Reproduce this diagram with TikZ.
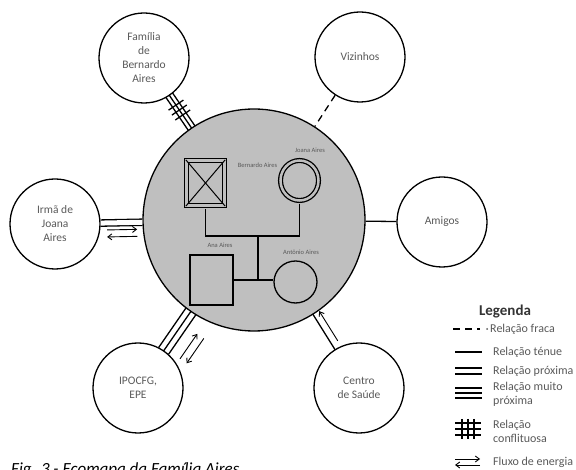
\documentclass[tikz,border=0pt]{standalone}
\usepackage{fontspec}
\setmainfont{Carlito}
\usepackage{tikz}
\usetikzlibrary{calc, shapes.geometric, arrows.meta}
\definecolor{famgray}{RGB}{191,191,191}
\definecolor{txtgray}{RGB}{89,89,89}
\tikzset{
    sistema/.style={circle, draw, line width=1.3pt, minimum size=90pt, inner sep=0pt, align=center, font=\fontsize{11.5}{14}\selectfont, text=txtgray},
    ligacao/.style={line width=1.3pt},
    homem/.style={rectangle, draw, line width=1.3pt, minimum width=43pt, minimum height=50pt, inner sep=0pt},
    mulher/.style={ellipse, draw, line width=1.3pt, minimum width=43pt, minimum height=43pt, inner sep=0pt},
    nome/.style={font=\fontsize{6.5}{7}\selectfont, text=txtgray, inner sep=0pt},
    legtexto/.style={anchor=west, align=left, font=\fontsize{12}{14}\selectfont, text=txtgray, inner sep=0pt},
    fluxo/.style={line width=0.9pt, -{Straight Barb[length=4pt, width=6pt]}}
}

\begin{document}
\begin{tikzpicture}[x=1pt, y=-1pt]
    \useasboundingbox (0,0) rectangle (576,470);

    % familia nuclear
    \node[circle, draw, fill=famgray, line width=1.3pt, minimum size=222pt, inner sep=0pt] (fam) at (254,220) {};

    % sistemas externos
    \node[sistema] (bernfam) at (144,58) {Família\\de\\Bernardo\\Aires};
    \node[sistema] (vizinhos) at (360,57) {Vizinhos};
    \node[sistema] (irma) at (55,224) {Irmã de\\Joana\\Aires};
    \node[sistema] (amigos) at (442,222) {Amigos};
    \node[sistema] (ipo) at (138,388) {IPOCFG,\\EPE};
    \node[sistema] (saude) at (359,388) {Centro\\de Saúde};

    % relacao conflituosa
    \coordinate (b1) at ($(bernfam)!45pt!(fam)$);
    \coordinate (b2) at ($(fam)!111pt!(bernfam)$);
    \foreach \d in {-4pt,0pt,4pt}
        \draw[ligacao] ($(b1)!\d!90:(b2)$) -- ($(b2)!\d!-90:(b1)$);
    \foreach \t in {0.3,0.45,0.6}
        \draw[ligacao] ($(b1)!\t!(b2)!9pt!90:(b2)$) -- ($(b1)!\t!(b2)!9pt!-90:(b2)$);

    % relacao fraca
    \draw[ligacao, dash pattern=on 7pt off 5pt] (vizinhos) -- (fam);

    % relacao proxima + fluxo
    \draw[ligacao, double=white, double distance=5pt] (irma) -- (fam);
    \coordinate (r1) at ($(irma)!45pt!(fam)$);
    \coordinate (r2) at ($(fam)!111pt!(irma)$);
    \draw[fluxo] ($(r1)!0.16!(r2)!7pt!-90:(r2)$) -- ($(r1)!0.86!(r2)!7pt!-90:(r2)$);
    \draw[fluxo] ($(r1)!0.86!(r2)!14pt!-90:(r2)$) -- ($(r1)!0.16!(r2)!14pt!-90:(r2)$);

    % relacao tenue
    \draw[ligacao] (amigos) -- (fam);

    % relacao muito proxima + fluxo
    \coordinate (i1) at ($(ipo)!45pt!(fam)$);
    \coordinate (i2) at ($(fam)!111pt!(ipo)$);
    \foreach \d in {-6pt,0pt,6pt}
        \draw[ligacao] ($(i1)!\d!90:(i2)$) -- ($(i2)!\d!-90:(i1)$);
    \draw[fluxo] ($(i1)!0.06!(i2)!18pt!-90:(i2)$) -- ($(i1)!0.69!(i2)!18pt!-90:(i2)$);
    \draw[fluxo] ($(i1)!0.69!(i2)!26pt!-90:(i2)$) -- ($(i1)!0.06!(i2)!26pt!-90:(i2)$);

    % centro de saude
    \coordinate (s1) at ($(saude)!45pt!(fam)$);
    \coordinate (s2) at ($(fam)!111pt!(saude)$);
    \draw[ligacao] (s1) -- (s2);
    \draw[fluxo] ($(s1)!0.15!(s2)!7pt!-90:(s2)$) -- ($(s1)!0.98!(s2)!7pt!-90:(s2)$);

    % genograma
    \node[homem, double=famgray, double distance=3pt, minimum width=38pt, minimum height=45pt] (bernardo) at (205.5,183) {};
    \draw[line width=1pt] (bernardo.north west) -- (bernardo.south east);
    \draw[line width=1pt] (bernardo.north east) -- (bernardo.south west);
    \node[mulher, double=famgray, double distance=2.5pt, minimum width=38pt, minimum height=40pt] (joana) at (299.5,180.5) {};
    \node[homem] (ana) at (211.5,280) {};
    \node[mulher, minimum height=42pt] (antonio) at (295.5,282) {};

    \node[nome] (nbernardo) at (257.5,165) {Bernardo Aires};
    \node[nome] (njoana) at (310,150) {Joana Aires};
    \node[nome] (nana) at (220,245) {Ana Aires};
    \node[nome] (nantonio) at (301,252) {Antônio Aires};

    \coordinate (casal) at (258,236);
    \draw[ligacao, shorten <=2.8pt, shorten >=2.6pt] (bernardo.south) |- (casal) -| (joana.south);
    \draw[ligacao] (casal) -- (casal |- ana.east);
    \draw[ligacao] (ana.east) -- (ana.east -| antonio.west);

    % legenda
    \node[font=\bfseries\fontsize{15}{17}\selectfont, text=black!80, inner sep=0pt] (legenda) at (505,312) {Legenda};
    \node[legtexto] (tfraca) at (490,329) {Relação fraca};
    \node[legtexto] (ttenue) at (493,352) {Relação ténue};
    \node[legtexto] (tproxima) at (493,371) {Relação próxima};
    \node[legtexto] (tmuito) at (493,394) {Relação muito\\próxima};
    \node[legtexto] (tconflito) at (493,431) {Relação\\conflituosa};
    \node[legtexto] (tfluxo) at (493,462) {Fluxo de energia};

    \draw[ligacao, dash pattern=on 7pt off 5pt] (453,329) -- ++(27,0);
    \fill[txtgray] (487,329) circle (1pt);
    \draw[ligacao] (455,352) -- ++(27,0);
    \foreach \d in {-3,3}
        \draw[ligacao] (455,371+\d) -- ++(27,0);
    \foreach \d in {-5,0,5}
        \draw[ligacao] (455,393+\d) -- ++(27,0);
    \foreach \d in {-6,0,6} {
        \draw[ligacao] (455,429+\d) -- ++(26,0);
        \draw[ligacao] (468+\d,419) -- ++(0,20);
    }
    \draw[fluxo] (455,459) -- ++(25,0);
    \draw[fluxo] (480,465) -- ++(-25,0);

    % legenda da figura
    \node[anchor=base west, inner sep=0pt, font=\itshape\fontsize{17}{20}\selectfont] (caption) at (11,474) {Fig. 3 - Ecomapa da Família Aires};
\end{tikzpicture}
\end{document}
